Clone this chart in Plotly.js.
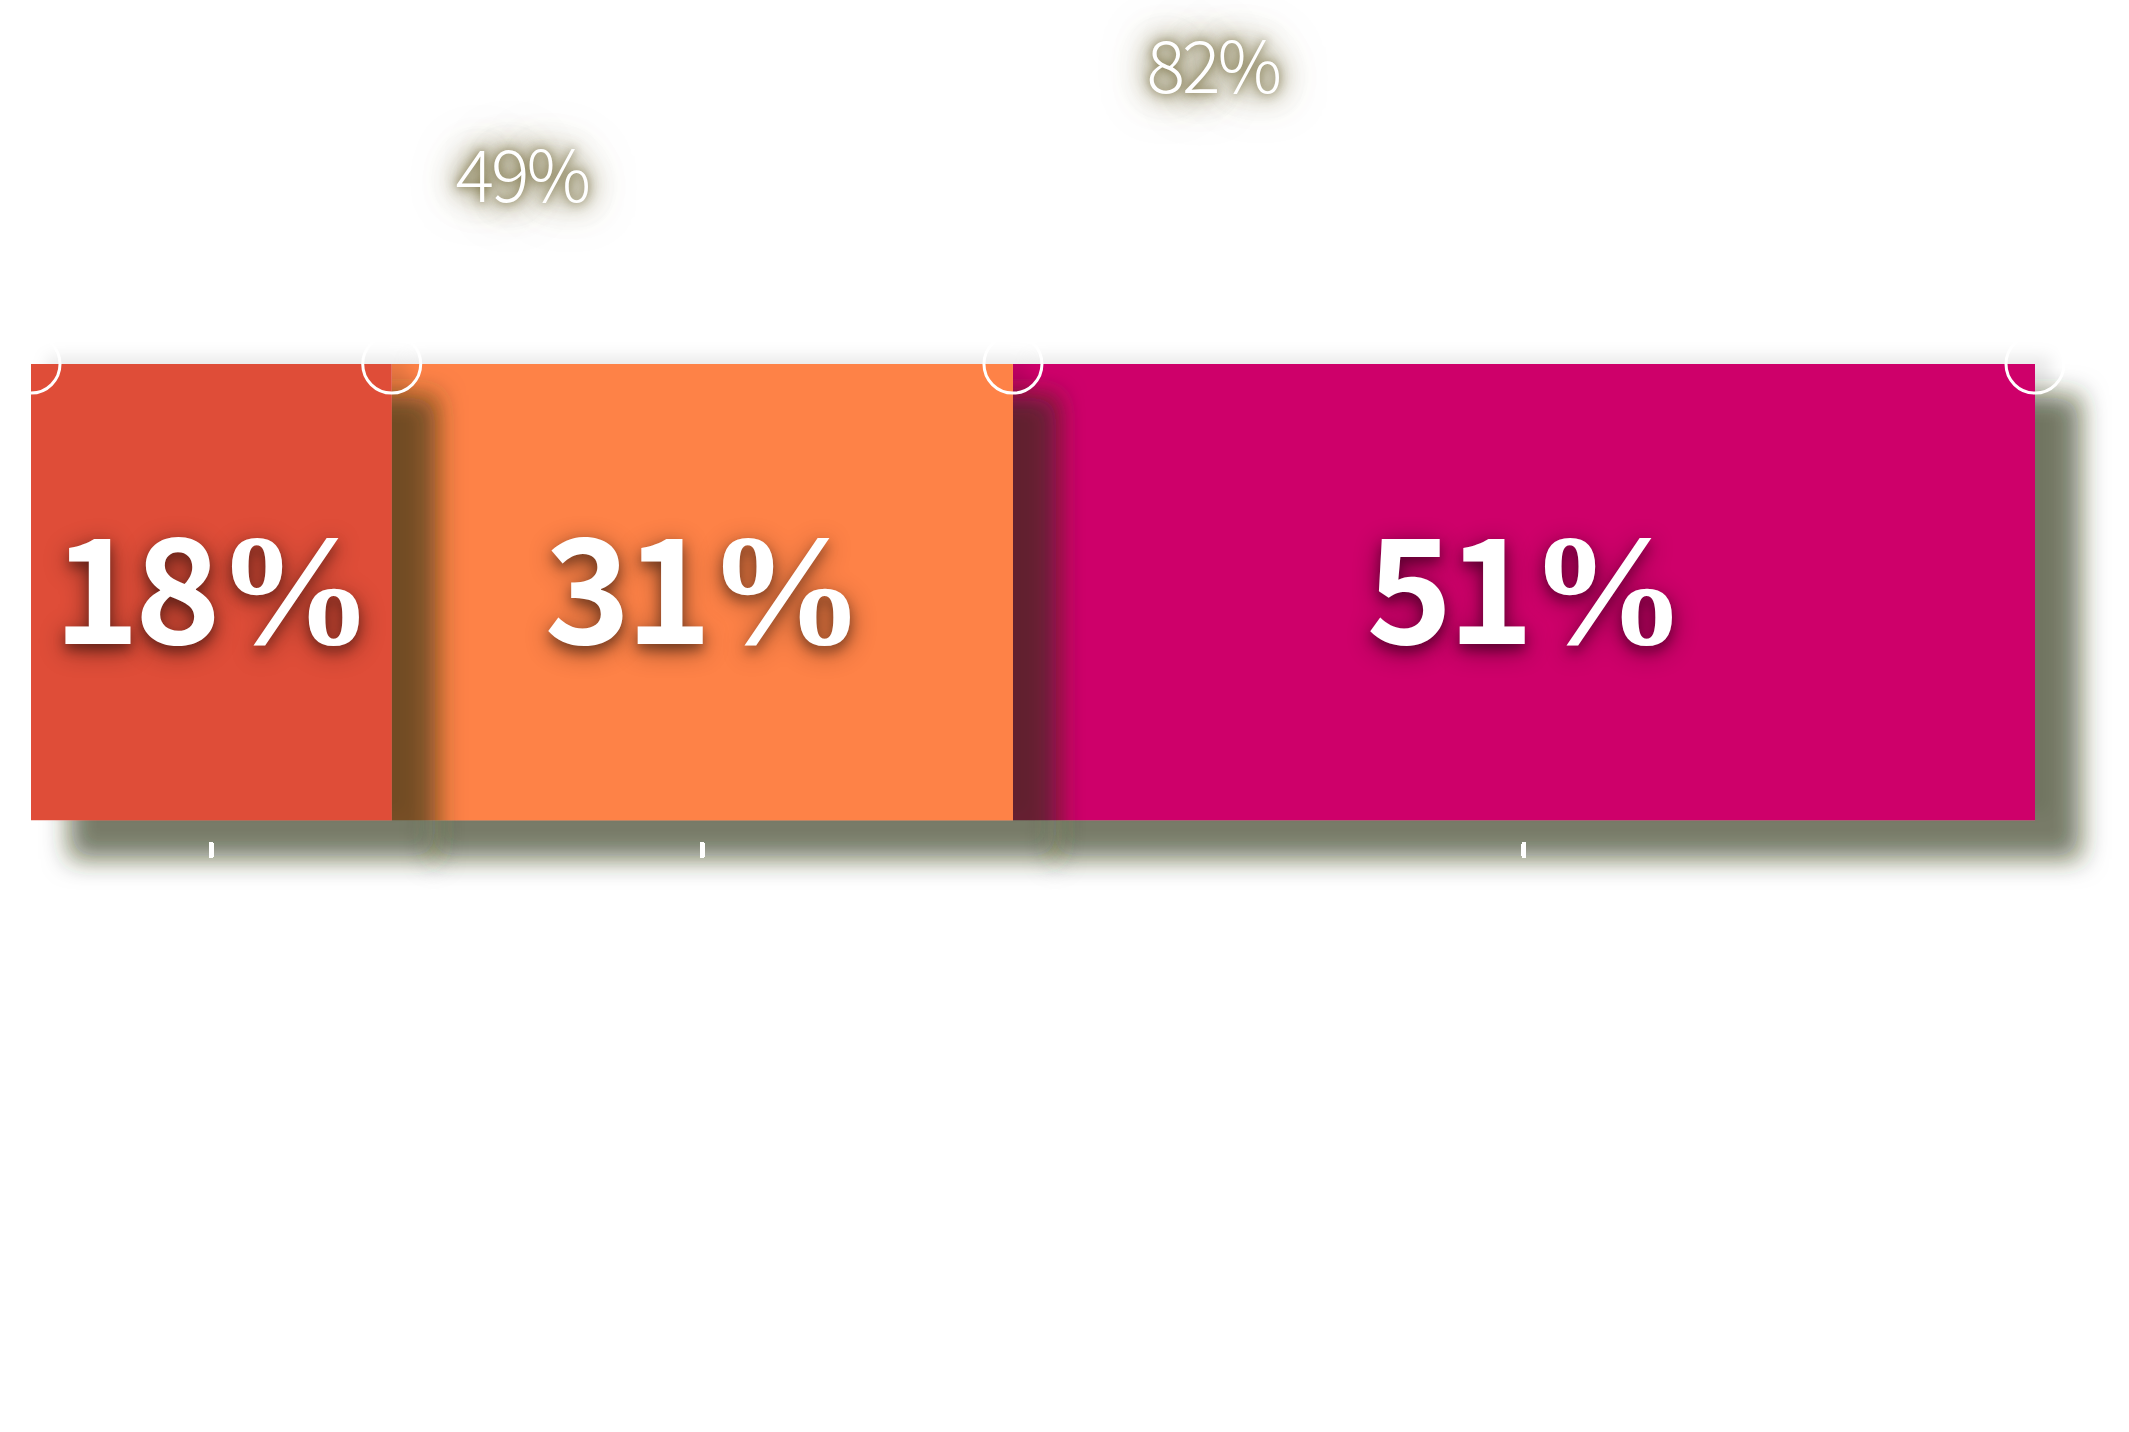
<!DOCTYPE html>
<html>
<head>
<meta charset="utf-8">
<script src="https://cdn.plot.ly/plotly-3.0.1.min.js"></script>
<style>
  html, body { margin: 0; padding: 0; background: #ffffff; }
  #chart { width: 2129px; height: 1432px; }
  #chart [clip-path] { clip-path: none !important; }
  .barlayer .point path { filter: url(#barShadow); }
  path.xtick { stroke-linecap: round; }
  g.annotation[data-index="0"] text, g.annotation[data-index="1"] text, g.annotation[data-index="2"] text { letter-spacing: -5px; }
  g.annotation[data-index="3"] text, g.annotation[data-index="4"] text { letter-spacing: -3px; }
</style>
</head>
<body>
<svg width="0" height="0" style="position:absolute">
  <defs>
    <filter id="barShadow" x="-40%" y="-30%" width="190%" height="180%">
      <feMorphology in="SourceAlpha" operator="dilate" radius="4" result="d"/>
      <feGaussianBlur in="d" stdDeviation="13" result="b"/>
      <feOffset in="b" dx="42" dy="35" result="o"/>
      <feFlood flood-color="#2a3210" flood-opacity="0.64"/>
      <feComposite in2="o" operator="in" result="sh"/>
      <feGaussianBlur in="SourceAlpha" stdDeviation="8" result="gb"/>
      <feOffset in="gb" dx="16" dy="-7" result="go"/>
      <feFlood flood-color="#000000" flood-opacity="0.09"/>
      <feComposite in2="go" operator="in" result="glow"/>
      <feMerge>
        <feMergeNode in="glow"/>
        <feMergeNode in="sh"/>
        <feMergeNode in="SourceGraphic"/>
      </feMerge>
    </filter>
  </defs>
</svg>
<div id="chart"></div>
<script>
// ---- data ----
const shares = [18, 31, 51];               // segment values (%)
const segmentColors = ["#DF4E39", "#FE8247", "#CE006B"];
const groupSpans = [[0, 1], [1, 2]];        // segment index ranges summed in the top labels
const groupLevels = [1.424, 1.663];         // vertical placement of the top labels

// ---- derived from data ----
const cumulative = [0];
shares.forEach(v => cumulative.push(cumulative[cumulative.length - 1] + v));
const centers = shares.map((v, i) => cumulative[i] + v / 2);
const groupTotals = groupSpans.map(([a, b]) => shares.slice(a, b + 1).reduce((s, v) => s + v, 0));
const groupMids = groupSpans.map(([a, b]) => (cumulative[a] + cumulative[b + 1]) / 2);

// draw later segments first so each segment's shadow falls over the next one
const order = shares.map((_, i) => i).reverse();

const FONT = "'Noto Sans CJK SC', 'Noto Sans', sans-serif";
const PCT_BIG = "<span style=\"font-family:'Liberation Sans Narrow';font-size:158px\">%</span>";

const barTrace = {
  type: "bar",
  x: order.map(i => centers[i]),
  y: order.map(() => 1),
  width: order.map(i => shares[i]),
  base: 0,
  marker: { color: order.map(i => segmentColors[i]), line: { width: 0 } },
  hoverinfo: "skip",
  showlegend: false
};

const markerTrace = {
  type: "scatter",
  mode: "markers",
  x: cumulative,
  y: cumulative.map(() => 1),
  marker: { symbol: "circle-open", size: 58, color: "#ffffff", line: { width: 3, color: "#ffffff" } },
  cliponaxis: false,
  hoverinfo: "skip",
  showlegend: false
};

const segmentLabels = shares.map((v, i) => ({
  x: centers[i],
  y: 0.5,
  xref: "x", yref: "y",
  text: v + PCT_BIG,
  showarrow: false,
  xanchor: "center", yanchor: "middle",
  yshift: 12,
  font: {
    family: FONT, size: 146, color: "#ffffff", weight: 700,
    shadow: "0px 6px 12px rgba(0,0,0,0.35), 0px 6px 26px rgba(0,0,0,0.45)"
  }
}));

const groupLabels = groupTotals.map((t, k) => ({
  x: groupMids[k],
  y: groupLevels[k],
  xref: "x", yref: "y",
  text: t + "%",
  showarrow: false,
  xanchor: "center", yanchor: "middle",
  font: {
    family: FONT, size: 72, color: "#ffffff", weight: 300,
    shadow: "0px 0px 10px rgba(110,100,50,0.9), 0px 0px 22px rgba(110,100,50,1), 0px 0px 34px rgba(110,100,50,0.9), 0px 0px 48px rgba(110,100,50,0.6)"
  }
}));

const layout = {
  width: 2129,
  height: 1432,
  margin: { l: 31, r: 94, t: 22, b: 589 },
  paper_bgcolor: "#ffffff",
  plot_bgcolor: "rgba(0,0,0,0)",
  barmode: "overlay",
  showlegend: false,
  xaxis: {
    range: [0, 100],
    showgrid: false, zeroline: false, showline: false,
    tickmode: "array", tickvals: centers,
    ticks: "outside", ticklen: 12, tickwidth: 5, tickcolor: "#ffffff",
    showticklabels: false,
    fixedrange: true
  },
  yaxis: {
    range: [-0.05, 1.75],
    visible: false,
    fixedrange: true
  },
  annotations: segmentLabels.concat(groupLabels)
};

Plotly.newPlot("chart", [barTrace, markerTrace], layout, { staticPlot: true, displayModeBar: false });
</script>
</body>
</html>
